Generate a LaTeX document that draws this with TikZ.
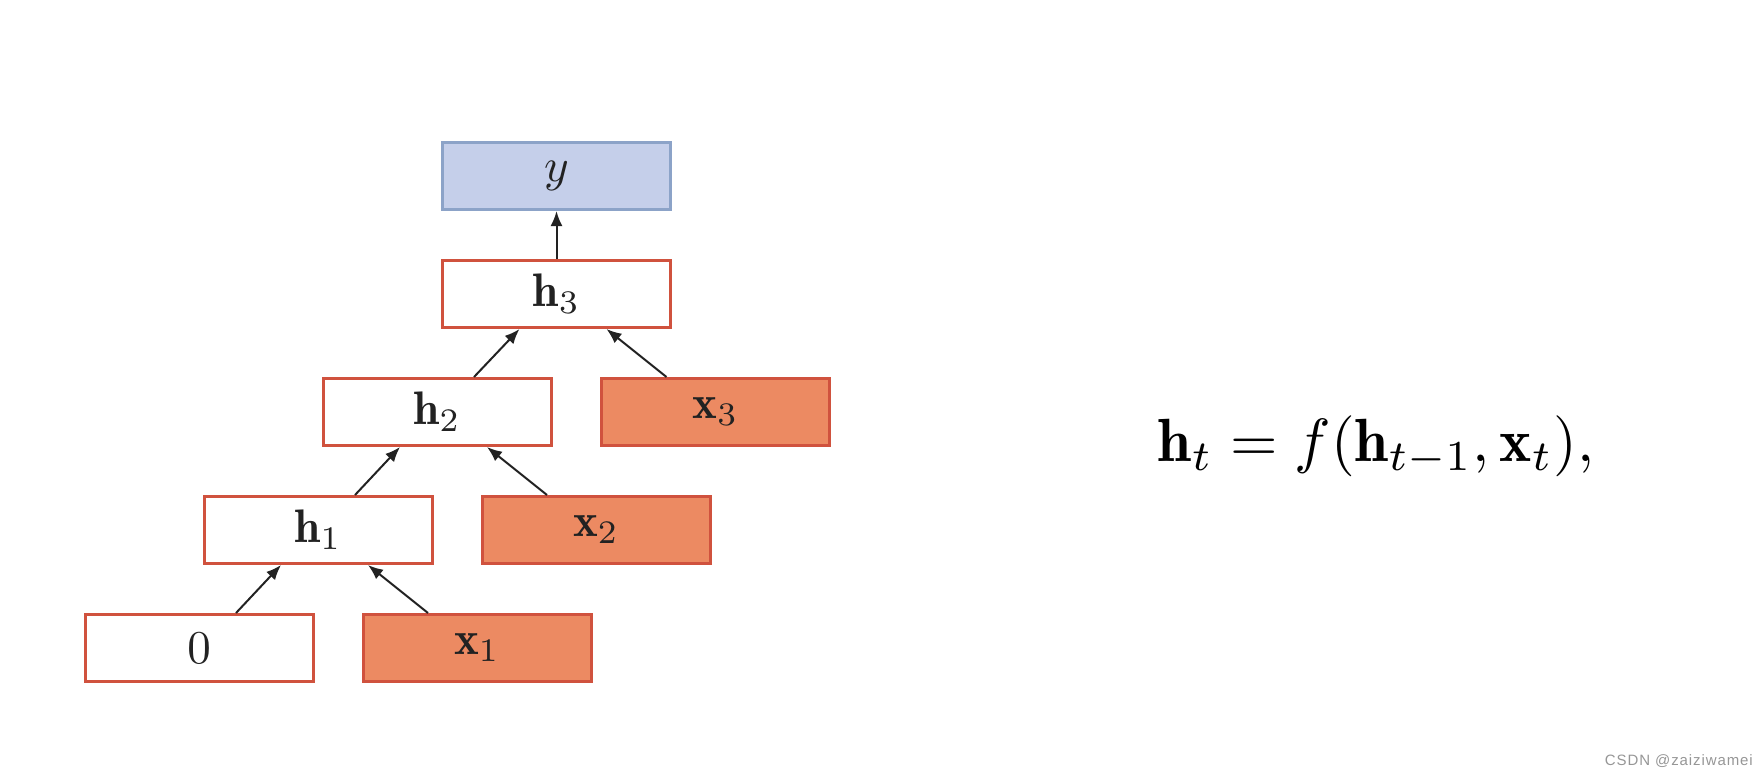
\documentclass[tikz,border=0pt]{standalone}
\usepackage{graphicx}
\usepackage{fontspec}
\newfontfamily\wmfont[LetterSpace=6]{Liberation Sans}
\usetikzlibrary{arrows.meta}
\definecolor{boxred}{RGB}{208,82,62}
\definecolor{boxorange}{RGB}{236,138,98}
\definecolor{boxblue}{RGB}{197,207,234}
\definecolor{boxblueline}{RGB}{140,163,200}
\definecolor{arrowgray}{RGB}{34,34,34}
\definecolor{wmgray}{RGB}{150,150,150}
\newcommand{\boxtxt}[1]{\scalebox{4.7}{#1}}
\tikzset{
  cell/.style={draw=boxred, line width=3pt, minimum width=228pt, minimum height=67pt,
    inner sep=0pt, text=arrowgray},
  hcell/.style={cell, fill=white},
  xcell/.style={cell, fill=boxorange},
  ycell/.style={cell, draw=boxblueline, fill=boxblue},
  arr/.style={draw=arrowgray, line width=2pt, -{Latex[length=15pt,width=12pt]}},
}
\begin{document}
\begin{tikzpicture}[x=1pt,y=-1pt]
\useasboundingbox (0,0) rectangle (1759,777);
\node[ycell] (y) at (556.5,176) {\boxtxt{$y$}};
\node[hcell] (h3) at (556.5,294) {\boxtxt{$\mathbf{h}_3$}};
\node[hcell] (h2) at (437,412) {\boxtxt{$\mathbf{h}_2$}};
\node[xcell] (x3) at (715.5,412) {\boxtxt{$\mathbf{x}_3$}};
\node[hcell] (h1) at (318,530) {\boxtxt{$\mathbf{h}_1$}};
\node[xcell] (x2) at (596,530) {\boxtxt{$\mathbf{x}_2$}};
\node[hcell] (zero) at (199,648) {\boxtxt{$0$}};
\node[xcell] (x1) at (477,648) {\boxtxt{$\mathbf{x}_1$}};

\draw[arr] (h3.north) -- (y.south);
\draw[arr] ([xshift=37pt]zero.north) -- ([xshift=-37pt]h1.south);
\draw[arr] ([xshift=-49pt]x1.north) -- ([xshift=50pt]h1.south);
\draw[arr] ([xshift=37pt]h1.north) -- ([xshift=-37pt]h2.south);
\draw[arr] ([xshift=-49pt]x2.north) -- ([xshift=50pt]h2.south);
\draw[arr] ([xshift=37pt]h2.north) -- ([xshift=-37pt]h3.south);
\draw[arr] ([xshift=-49pt]x3.north) -- ([xshift=50pt]h3.south);

\node[text=black, inner sep=0pt] (eq) at (1376,446)
  {\scalebox{6.1}{$\mathbf{h}_t = f(\mathbf{h}_{t-1}, \mathbf{x}_t),$}};

\node[font=\wmfont\fontsize{15}{18}\selectfont, text=wmgray, anchor=base east, inner sep=0pt]
  (wm) at (1753,765) {CSDN @zaiziwamei};
\end{tikzpicture}
\end{document}
